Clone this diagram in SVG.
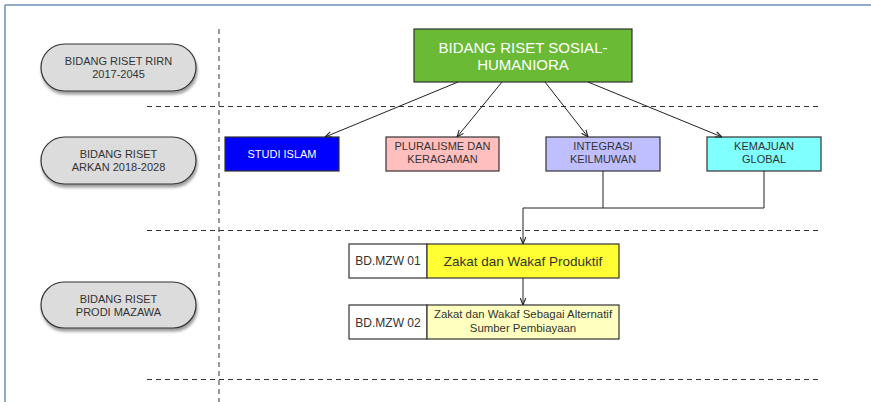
<svg xmlns="http://www.w3.org/2000/svg" width="871" height="402" viewBox="0 0 871 402">
<defs>
<marker id="ah" viewBox="0 0 10 10" refX="10" refY="5" markerWidth="7" markerHeight="7" orient="auto" markerUnits="userSpaceOnUse">
<path d="M0,1 L10,5 L0,9" fill="none" stroke="#222" stroke-width="1.5"/>
</marker>
<filter id="sh" x="-10%" y="-10%" width="130%" height="140%">
<feGaussianBlur in="SourceAlpha" stdDeviation="1.5"/>
<feOffset dx="1" dy="3"/>
<feComponentTransfer><feFuncA type="linear" slope="0.4"/></feComponentTransfer>
<feMerge><feMergeNode/><feMergeNode in="SourceGraphic"/></feMerge>
</filter>
</defs>
<style>
text{font-family:"Liberation Sans",Arial,sans-serif;fill:#333;text-anchor:middle}
.pill{fill:#dcdcdc;stroke:#333;stroke-width:1.2}
.pt{font-size:11px}
.box{stroke:#333;stroke-width:1.2}
.bt{font-size:11px}
.dash{stroke:#333;stroke-width:1;stroke-dasharray:5,4;fill:none}
.con{stroke:#222;stroke-width:1;fill:none}
</style>
<rect x="0" y="0" width="871" height="402" fill="#fff"/>
<line x1="5" y1="5" x2="871" y2="5" stroke="#6f8fb5" stroke-width="1.5"/>
<line x1="5" y1="5" x2="5" y2="402" stroke="#6f8fb5" stroke-width="1.5"/>

<g id="guides">
<line class="dash" x1="219" y1="29" x2="219" y2="402"/>
<line class="dash" x1="147" y1="106.5" x2="820" y2="106.5"/>
<line class="dash" x1="147" y1="230.5" x2="820" y2="230.5"/>
<line class="dash" x1="147" y1="379.5" x2="820" y2="379.5"/>
</g>

<g id="pill1">
<rect class="pill" x="41" y="44" width="155" height="47" rx="23.5" filter="url(#sh)"/>
<text class="pt" x="118.5" y="65">BIDANG RISET RIRN</text>
<text class="pt" x="118.5" y="78">2017-2045</text>
</g>
<g id="pill2">
<rect class="pill" x="41" y="137" width="155" height="47" rx="23.5" filter="url(#sh)"/>
<text class="pt" x="118.5" y="158">BIDANG RISET</text>
<text class="pt" x="118.5" y="171">ARKAN 2018-2028</text>
</g>
<g id="pill3">
<rect class="pill" x="41" y="282" width="155" height="46" rx="23" filter="url(#sh)"/>
<text class="pt" x="118.5" y="303">BIDANG RISET</text>
<text class="pt" x="118.5" y="316">PRODI MAZAWA</text>
</g>

<g id="root">
<rect class="box" x="414" y="29" width="218" height="53" fill="#6aba35"/>
<text x="523" y="53" font-size="15" style="fill:#fff">BIDANG RISET SOSIAL-</text>
<text x="523" y="70" font-size="15" style="fill:#fff">HUMANIORA</text>
</g>

<g id="studi">
<rect class="box" x="225" y="137" width="114" height="34" fill="#0000ff"/>
<text class="bt" x="282" y="158" style="fill:#fff">STUDI ISLAM</text>
</g>
<g id="pluralisme">
<rect class="box" x="386" y="137" width="113" height="34" fill="#ffbfbf"/>
<text class="bt" x="442.5" y="150">PLURALISME DAN</text>
<text class="bt" x="442.5" y="163">KERAGAMAN</text>
</g>
<g id="integrasi">
<rect class="box" x="546" y="137" width="114" height="34" fill="#bfbfff"/>
<text class="bt" x="603" y="150">INTEGRASI</text>
<text class="bt" x="603" y="163">KEILMUWAN</text>
</g>
<g id="kemajuan">
<rect class="box" x="707" y="137" width="114" height="34" fill="#80ffff"/>
<text class="bt" x="764" y="150">KEMAJUAN</text>
<text class="bt" x="764" y="163">GLOBAL</text>
</g>

<g id="mzw01">
<rect class="box" x="349" y="244" width="78" height="34" fill="#fff"/>
<text x="388" y="265" font-size="12">BD.MZW 01</text>
<rect class="box" x="427" y="244" width="192" height="34" fill="#ffff33"/>
<text x="523" y="266" font-size="13.5">Zakat dan Wakaf Produktif</text>
</g>
<g id="mzw02">
<rect class="box" x="349" y="305" width="78" height="34" fill="#fff"/>
<text x="388" y="327" font-size="12">BD.MZW 02</text>
<rect class="box" x="427" y="305" width="192" height="34" fill="#ffffc0"/>
<text x="523" y="318" font-size="11.4">Zakat dan Wakaf Sebagai Alternatif</text>
<text x="523" y="332" font-size="11.4">Sumber Pembiayaan</text>
</g>

<g id="connectors">
<line class="con" x1="458" y1="82" x2="325" y2="137" marker-end="url(#ah)"/>
<line class="con" x1="502" y1="82" x2="457" y2="137" marker-end="url(#ah)"/>
<line class="con" x1="545" y1="82" x2="588" y2="137" marker-end="url(#ah)"/>
<line class="con" x1="588" y1="82" x2="722" y2="137" marker-end="url(#ah)"/>
<path class="con" d="M764,171 V208 H603" stroke="#555"/>
<path class="con" d="M603,171 V208 H523 V244" stroke-width="1.4" marker-end="url(#ah)"/>
<line class="con" x1="523" y1="278" x2="523" y2="305" stroke="#555" marker-end="url(#ah)"/>
</g>
</svg>
